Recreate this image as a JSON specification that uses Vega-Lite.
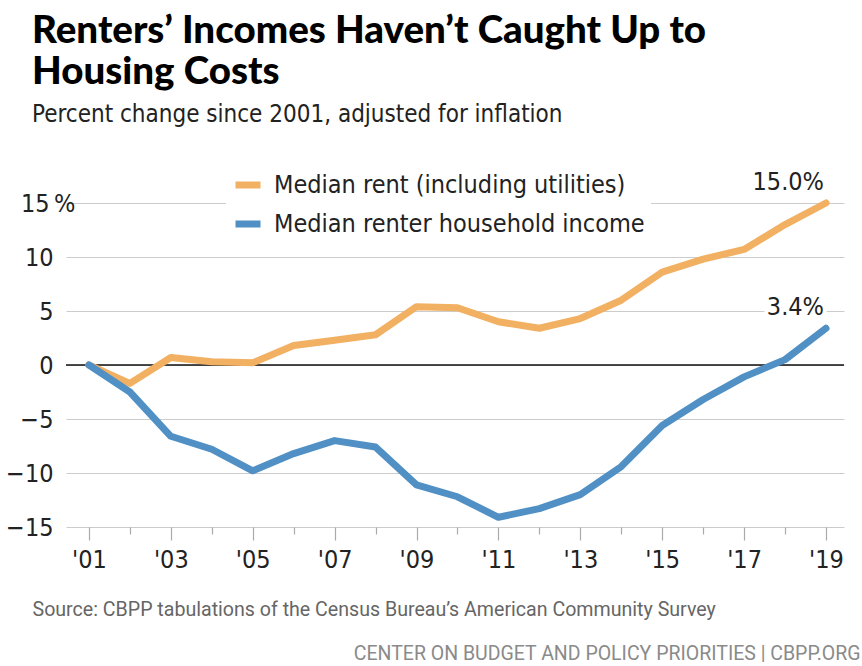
{
  "$schema": "https://vega.github.io/schema/vega-lite/v6.json",
  "width": 778,
  "height": 324,
  "autosize": {"type": "none"},
  "padding": {"left": 66, "top": 203, "right": 18, "bottom": 139},
  "background": "white",
  "title": {
    "text": ["Renters’ Incomes Haven’t Caught Up to", "Housing Costs"],
    "subtitle": "Percent change since 2001, adjusted for inflation",
    "anchor": "start",
    "frame": "group",
    "dx": -34,
    "font": "Lato",
    "fontSize": 38.5,
    "fontWeight": 900,
    "lineHeight": 41,
    "color": "#000000",
    "subtitleFont": "Liberation Sans Narrow, DejaVu Sans Condensed, sans-serif",
    "subtitleFontSize": 24,
    "subtitleColor": "#222222",
    "subtitlePadding": 11,
    "offset": 35
  },
  "data": {
    "values": [
      {"year": 2001, "series": "Median rent (including utilities)", "value": 0},
      {"year": 2002, "series": "Median rent (including utilities)", "value": -1.7},
      {"year": 2003, "series": "Median rent (including utilities)", "value": 0.7},
      {"year": 2004, "series": "Median rent (including utilities)", "value": 0.3},
      {"year": 2005, "series": "Median rent (including utilities)", "value": 0.2},
      {"year": 2006, "series": "Median rent (including utilities)", "value": 1.8},
      {"year": 2007, "series": "Median rent (including utilities)", "value": 2.3},
      {"year": 2008, "series": "Median rent (including utilities)", "value": 2.8},
      {"year": 2009, "series": "Median rent (including utilities)", "value": 5.4},
      {"year": 2010, "series": "Median rent (including utilities)", "value": 5.3},
      {"year": 2011, "series": "Median rent (including utilities)", "value": 4.0},
      {"year": 2012, "series": "Median rent (including utilities)", "value": 3.4},
      {"year": 2013, "series": "Median rent (including utilities)", "value": 4.3},
      {"year": 2014, "series": "Median rent (including utilities)", "value": 6.0},
      {"year": 2015, "series": "Median rent (including utilities)", "value": 8.6},
      {"year": 2016, "series": "Median rent (including utilities)", "value": 9.8},
      {"year": 2017, "series": "Median rent (including utilities)", "value": 10.7},
      {"year": 2018, "series": "Median rent (including utilities)", "value": 13.0},
      {"year": 2019, "series": "Median rent (including utilities)", "value": 15.0},
      {"year": 2001, "series": "Median renter household income", "value": 0},
      {"year": 2002, "series": "Median renter household income", "value": -2.5},
      {"year": 2003, "series": "Median renter household income", "value": -6.6},
      {"year": 2004, "series": "Median renter household income", "value": -7.8},
      {"year": 2005, "series": "Median renter household income", "value": -9.8},
      {"year": 2006, "series": "Median renter household income", "value": -8.2},
      {"year": 2007, "series": "Median renter household income", "value": -7.0},
      {"year": 2008, "series": "Median renter household income", "value": -7.6},
      {"year": 2009, "series": "Median renter household income", "value": -11.1},
      {"year": 2010, "series": "Median renter household income", "value": -12.2},
      {"year": 2011, "series": "Median renter household income", "value": -14.1},
      {"year": 2012, "series": "Median renter household income", "value": -13.3},
      {"year": 2013, "series": "Median renter household income", "value": -12.0},
      {"year": 2014, "series": "Median renter household income", "value": -9.4},
      {"year": 2015, "series": "Median renter household income", "value": -5.6},
      {"year": 2016, "series": "Median renter household income", "value": -3.2},
      {"year": 2017, "series": "Median renter household income", "value": -1.1},
      {"year": 2018, "series": "Median renter household income", "value": 0.5},
      {"year": 2019, "series": "Median renter household income", "value": 3.4}
    ]
  },
  "layer": [
    {
      "data": {"values": [{"zero": 0}]},
      "mark": {"type": "rule", "color": "#111111", "strokeWidth": 1.6},
      "encoding": {
        "y": {"field": "zero", "type": "quantitative", "scale": {"domain": [-15, 15], "nice": false, "zero": false}}
      }
    },
    {
      "mark": {"type": "line", "strokeWidth": 7, "strokeCap": "round", "strokeJoin": "round"},
      "encoding": {
        "x": {
          "field": "year",
          "type": "quantitative",
          "scale": {"domain": [2000.44, 2019.44], "nice": false, "zero": false},
          "axis": {
            "values": [2001, 2002, 2003, 2004, 2005, 2006, 2007, 2008, 2009, 2010, 2011, 2012, 2013, 2014, 2015, 2016, 2017, 2018, 2019],
            "labelExpr": "datum.value % 2 == 1 ? '\\'' + slice(toString(datum.value), 2) : ''",
            "grid": false,
            "domain": false,
            "ticks": true,
            "tickColor": "#aaaaaa",
            "tickWidth": 1.2,
            "tickSize": {"condition": {"test": "datum.value % 2 == 1", "value": 13}, "value": 7},
            "labelPadding": 7,
            "labelFont": "Liberation Sans Narrow, DejaVu Sans Condensed, sans-serif",
            "labelFontSize": 25,
            "labelColor": "#222222",
            "labelFlush": false,
            "title": "Source: CBPP tabulations of the Census Bureau’s American Community Survey",
            "titleX": -34,
            "titleY": 82,
            "titleAlign": "left",
            "titleAnchor": "start",
            "titleBaseline": "middle",
            "titleFont": "Roboto",
            "titleFontSize": 19.6,
            "titleFontWeight": "normal",
            "titleColor": "#666666"
          }
        },
        "y": {
          "field": "value",
          "type": "quantitative",
          "scale": {"domain": [-15, 15], "nice": false, "zero": false},
          "axis": {
            "values": [-15, -10, -5, 0, 5, 10, 15],
            "labelExpr": "datum.value == 15 ? '15\u2009%' : datum.label",
            "grid": true,
            "gridColor": "#cccccc",
            "gridWidth": 1.2,
            "domain": false,
            "ticks": false,
            "labelPadding": {"condition": {"test": "datum.value == 15", "value": -9}, "value": 13},
            "labelFont": "Liberation Sans Narrow, DejaVu Sans Condensed, sans-serif",
            "labelFontSize": 25,
            "labelColor": "#222222",
            "labelFlush": false,
            "title": "CENTER ON BUDGET AND POLICY PRIORITIES | CBPP.ORG",
            "titleAngle": 0,
            "titleX": 794,
            "titleY": 450,
            "titleAlign": "right",
            "titleBaseline": "middle",
            "titleFont": "Roboto",
            "titleFontSize": 19.5,
            "titleFontWeight": "normal",
            "titleColor": "#8a8a8a"
          }
        },
        "color": {
          "field": "series",
          "type": "nominal",
          "scale": {
            "domain": ["Median rent (including utilities)", "Median renter household income"],
            "range": ["#F2B063", "#5090C4"]
          },
          "legend": {
            "orient": "none",
            "legendX": 160,
            "legendY": -40,
            "title": null,
            "fillColor": "white",
            "padding": 6,
            "symbolType": "stroke",
            "symbolStrokeWidth": 7,
            "symbolSize": 625,
            "labelFont": "Liberation Sans Narrow, DejaVu Sans Condensed, sans-serif",
            "labelFontSize": 25,
            "labelColor": "#222222",
            "labelOffset": 10,
            "labelLimit": 500,
            "rowPadding": 9
          }
        }
      }
    },
    {
      "data": {"values": [{"year": 2019, "value": 15.0, "label": "15.0%"}, {"year": 2019, "value": 3.4, "label": "3.4%"}]},
      "mark": {"type": "text", "align": "right", "baseline": "middle", "dx": -2, "dy": -21, "font": "Liberation Sans Narrow, DejaVu Sans Condensed, sans-serif", "fontSize": 25, "stroke": "white", "strokeWidth": 8, "color": "white"},
      "encoding": {
        "x": {"field": "year", "type": "quantitative"},
        "y": {"field": "value", "type": "quantitative"},
        "text": {"field": "label"}
      }
    },
    {
      "data": {"values": [{"year": 2019, "value": 15.0, "label": "15.0%"}, {"year": 2019, "value": 3.4, "label": "3.4%"}]},
      "mark": {"type": "text", "align": "right", "baseline": "middle", "dx": -2, "dy": -21, "font": "Liberation Sans Narrow, DejaVu Sans Condensed, sans-serif", "fontSize": 25, "color": "#222222"},
      "encoding": {
        "x": {"field": "year", "type": "quantitative"},
        "y": {"field": "value", "type": "quantitative"},
        "text": {"field": "label"}
      }
    }
  ],
  "config": {
    "view": {"stroke": null}
  }
}
